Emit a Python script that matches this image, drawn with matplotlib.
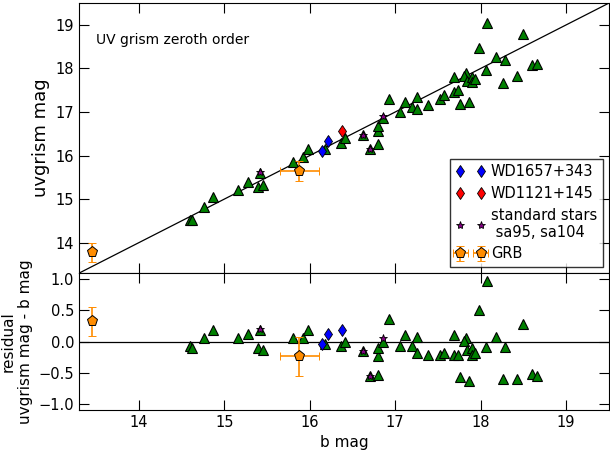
import numpy as np
import matplotlib
matplotlib.use("Agg")
import matplotlib.pyplot as plt

# field stars: b magnitude and residual (uvgrism - b)
field_b = [14.595, 14.62, 14.76, 14.87, 15.16, 15.28, 15.40, 15.45, 15.42, 15.80, 15.92,
           15.98, 16.18, 16.37, 16.41, 16.62, 16.70, 16.80, 16.80, 16.80, 16.86, 16.93,
           17.06, 17.12, 17.20, 17.25, 17.26, 17.38, 17.53, 17.57, 17.69, 17.73, 17.69,
           17.76, 17.87, 17.83, 17.81, 17.84, 17.90, 17.90, 17.93, 17.98, 18.08, 18.06,
           18.18, 18.26, 18.29, 18.43, 18.50, 18.60, 18.66]
field_res = [-0.065, -0.11, 0.065, 0.19, 0.05, 0.12, -0.11, -0.13, 0.19, 0.05, 0.05,
             0.18, -0.04, -0.075, 0.0, -0.15, -0.55, -0.53, -0.24, -0.11, 0.0, 0.37,
             -0.07, 0.11, -0.075, -0.18, 0.075, -0.21, -0.22, -0.18, -0.22, -0.22, 0.11,
             -0.57, -0.64, 0.06, 0.01, -0.13, -0.10, -0.22, -0.18, 0.50, 0.97, -0.09,
             0.075, -0.60, -0.09, -0.61, 0.29, -0.52, -0.55]

# white dwarfs
wd1657_b = [16.14, 16.21]
wd1657_res = [-0.04, 0.12]
wd1121_b = [16.38]
wd1121_res = [0.19]

# standard stars sa95, sa104
std_b = [15.42, 16.62, 16.70, 16.86]
std_res = [0.20, -0.15, -0.55, 0.05]

# GRB
grb_b = [13.455, 15.88]
grb_uv = [13.78, 15.64]
grb_berr = [0.0, 0.23]
grb_uverr = [0.22, 0.225]
grb_reserr = [0.23, 0.32]

field_uv = np.array(field_b) + np.array(field_res)
wd1657_uv = np.array(wd1657_b) + np.array(wd1657_res)
wd1121_uv = np.array(wd1121_b) + np.array(wd1121_res)
std_uv = np.array(std_b) + np.array(std_res)
grb_res = np.array(grb_uv) - np.array(grb_b)

plt.rcParams['font.family'] = 'DejaVu Sans'
plt.rcParams['xtick.direction'] = 'in'
plt.rcParams['ytick.direction'] = 'in'
plt.rcParams['xtick.top'] = True
plt.rcParams['ytick.right'] = True
plt.rcParams['xtick.major.size'] = 7
plt.rcParams['ytick.major.size'] = 7
plt.rcParams['xtick.labelsize'] = 10.5
plt.rcParams['ytick.labelsize'] = 10.5

fig = plt.figure(figsize=(6.1, 4.53), dpi=100, facecolor='white')
ax1 = fig.add_axes([0.1295, 0.397, 0.8685, 0.596])
ax2 = fig.add_axes([0.1295, 0.095, 0.8685, 0.302], sharex=ax1)

xl = np.array([13.3, 19.5])
ax1.plot(xl, xl, 'k-', lw=0.9)
ax1.plot(field_b, field_uv, '^', color='green', mec='black', mew=0.8, ms=6.5, ls='none')
ax1.plot(wd1657_b, wd1657_uv, 'd', color='blue', mec='black', mew=0.6, ms=6, ls='none',
         label='WD1657+343')
ax1.plot(wd1121_b, wd1121_uv, 'd', color='red', mec='black', mew=0.6, ms=6, ls='none',
         label='WD1121+145')
ax1.plot(std_b, std_uv, '*', color='purple', mec='black', mew=0.6, ms=6, ls='none',
         label='standard stars\n sa95, sa104')
ax1.errorbar(grb_b, grb_uv, xerr=grb_berr, yerr=grb_uverr, fmt='p', color='darkorange',
             mfc='darkorange', mec='black', mew=0.7, ms=8, ecolor='darkorange',
             capsize=3, elinewidth=1.2, label='GRB')
ax1.text(0.032, 0.85, 'UV grism zeroth order', transform=ax1.transAxes, fontsize=10)
ax1.set_xlim(13.3, 19.5)
ax1.set_ylim(13.3, 19.5)
ax1.set_yticks([14, 15, 16, 17, 18, 19])
ax1.set_ylabel('uvgrism mag', fontsize=13)
ax1.tick_params(labelbottom=False)
leg = ax1.legend(loc='lower right', numpoints=2, fontsize=10.5, fancybox=False,
                 handletextpad=0.4, borderpad=0.4, labelspacing=0.45,
                 borderaxespad=0.4)
leg.get_frame().set_edgecolor('black')

ax2.axhline(0, color='black', lw=0.9)
ax2.plot(field_b, field_res, '^', color='green', mec='black', mew=0.8, ms=6.5, ls='none')
ax2.plot(wd1657_b + wd1121_b, wd1657_res + wd1121_res, 'd', color='blue', mec='black',
         mew=0.6, ms=6, ls='none')
ax2.plot(std_b, std_res, '*', color='purple', mec='black', mew=0.6, ms=6, ls='none')
ax2.errorbar(grb_b, grb_res, xerr=grb_berr, yerr=grb_reserr, fmt='p', color='darkorange',
             mfc='darkorange', mec='black', mew=0.7, ms=8, ecolor='darkorange',
             capsize=3, elinewidth=1.2)
ax2.set_ylim(-1.1, 1.1)
ax2.set_yticks([-1.0, -0.5, 0.0, 0.5, 1.0])
ax2.set_xticks([14, 15, 16, 17, 18, 19])
ax2.set_xlabel('b mag', fontsize=11)
ax2.set_ylabel('residual\nuvgrism mag - b mag', fontsize=11)

fig.savefig('out.png', dpi=100, facecolor='white')
